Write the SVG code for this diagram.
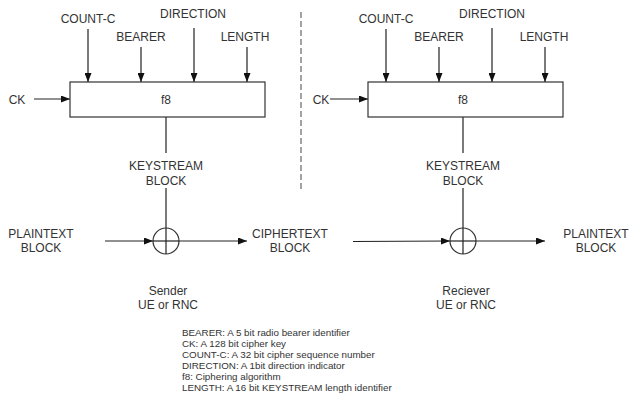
<svg xmlns="http://www.w3.org/2000/svg" width="629" height="404" viewBox="0 0 629 404">
<defs>
<marker id="ah" markerWidth="9" markerHeight="7" refX="9" refY="3.5" orient="auto" markerUnits="userSpaceOnUse">
<path d="M0,0 L9,3.5 L0,7 Z" fill="#111"/>
</marker>
<style>
text{font-family:"Liberation Sans",Arial,sans-serif;fill:#333;}
.lbl{font-size:12px;text-anchor:middle;}
.leg{font-size:9.8px;}
.ln{stroke:#222;stroke-width:1.2;fill:none;}
.arr{stroke:#222;stroke-width:1.2;fill:none;marker-end:url(#ah);}
.box{fill:#fff;stroke:#333;stroke-width:1.2;}
.xor{fill:#fff;stroke:#333;stroke-width:1.2;}
</style>
</defs>
<rect width="629" height="404" fill="#fff"/>

<g id="connectors">
<line class="arr" x1="88" y1="29" x2="88" y2="82"/>
<line class="arr" x1="141" y1="47" x2="141" y2="82"/>
<line class="arr" x1="194" y1="28" x2="194" y2="82"/>
<line class="arr" x1="247" y1="47" x2="247" y2="82"/>
<line class="arr" x1="34" y1="99" x2="70" y2="99"/>
<line class="ln" x1="166" y1="117" x2="166" y2="153"/>
<line class="ln" x1="166" y1="188" x2="166" y2="228"/>
<line class="arr" x1="105" y1="241" x2="153" y2="241"/>
<line class="arr" x1="179" y1="241" x2="247" y2="241"/>

<line class="arr" x1="386" y1="29" x2="386" y2="82"/>
<line class="arr" x1="439" y1="47" x2="439" y2="82"/>
<line class="arr" x1="492" y1="28" x2="492" y2="82"/>
<line class="arr" x1="545" y1="47" x2="545" y2="82"/>
<line class="arr" x1="330" y1="99" x2="368" y2="99"/>
<line class="ln" x1="463" y1="117" x2="463" y2="153"/>
<line class="ln" x1="463" y1="188" x2="463" y2="228"/>
<line class="arr" x1="353" y1="241.5" x2="450" y2="241"/>
<line class="arr" x1="476" y1="241" x2="545" y2="241"/>

<line x1="301" y1="12" x2="301" y2="190" stroke="#666" stroke-width="1.2" stroke-dasharray="6,3"/>
</g>

<g id="sender-f8">
<rect class="box" x="70" y="82" width="195" height="35"/>
<text class="lbl" x="166" y="104">f8</text>
</g>
<g id="sender-inputs">
<text class="lbl" x="88" y="23">COUNT-C</text>
<text class="lbl" x="141" y="41">BEARER</text>
<text class="lbl" x="193" y="18">DIRECTION</text>
<text class="lbl" x="245" y="41">LENGTH</text>
<text class="lbl" x="17" y="104">CK</text>
</g>
<g id="sender-keystream">
<text class="lbl" x="166" y="170">KEYSTREAM</text>
<text class="lbl" x="166" y="185">BLOCK</text>
</g>
<g id="sender-xor">
<circle class="xor" cx="166" cy="241" r="13"/>
<line class="ln" x1="153" y1="241" x2="179" y2="241"/>
<line class="ln" x1="166" y1="228" x2="166" y2="254"/>
</g>
<g id="plaintext-in">
<text class="lbl" x="41" y="238">PLAINTEXT</text>
<text class="lbl" x="41" y="252">BLOCK</text>
</g>
<g id="ciphertext">
<text class="lbl" x="290" y="238">CIPHERTEXT</text>
<text class="lbl" x="290" y="252">BLOCK</text>
</g>
<g id="sender-label">
<text class="lbl" x="168" y="295">Sender</text>
<text class="lbl" x="168" y="309">UE or RNC</text>
</g>

<g id="receiver-f8">
<rect class="box" x="368" y="82" width="195" height="35"/>
<text class="lbl" x="463" y="104">f8</text>
</g>
<g id="receiver-inputs">
<text class="lbl" x="386" y="23">COUNT-C</text>
<text class="lbl" x="439" y="41">BEARER</text>
<text class="lbl" x="492" y="18">DIRECTION</text>
<text class="lbl" x="544" y="41">LENGTH</text>
<text class="lbl" x="321" y="104">CK</text>
</g>
<g id="receiver-keystream">
<text class="lbl" x="463" y="170">KEYSTREAM</text>
<text class="lbl" x="463" y="185">BLOCK</text>
</g>
<g id="receiver-xor">
<circle class="xor" cx="463" cy="241" r="13"/>
<line class="ln" x1="450" y1="241" x2="476" y2="241"/>
<line class="ln" x1="463" y1="228" x2="463" y2="254"/>
</g>
<g id="plaintext-out">
<text class="lbl" x="596" y="238">PLAINTEXT</text>
<text class="lbl" x="596" y="252">BLOCK</text>
</g>
<g id="receiver-label">
<text class="lbl" x="466" y="295">Reciever</text>
<text class="lbl" x="466" y="309">UE or RNC</text>
</g>

<g id="legend">
<text class="leg" x="182" y="336">BEARER: A 5 bit radio bearer identifier</text>
<text class="leg" x="182" y="347">CK:  A 128 bit cipher key</text>
<text class="leg" x="182" y="357.5">COUNT-C: A 32 bit cipher sequence number</text>
<text class="leg" x="182" y="368.5">DIRECTION: A 1bit direction indicator</text>
<text class="leg" x="182" y="379.5">f8: Ciphering algorithm</text>
<text class="leg" x="182" y="390.5">LENGTH: A 16 bit KEYSTREAM length identifier</text>
</g>
</svg>
